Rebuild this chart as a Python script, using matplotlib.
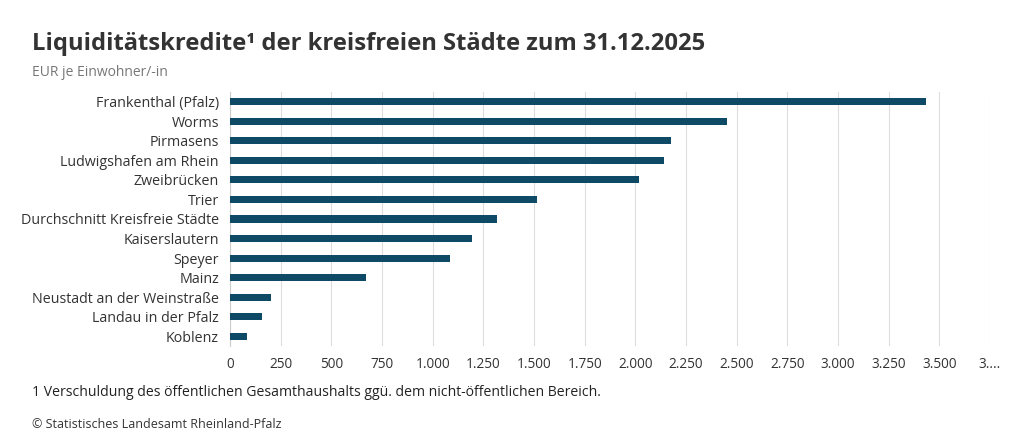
import matplotlib.pyplot as plt
import numpy as np

staedte = ['Frankenthal (Pfalz)', 'Worms', 'Pirmasens', 'Ludwigshafen am Rhein', 'Zweibrücken',
           'Trier', 'Durchschnitt Kreisfreie Städte', 'Kaiserslautern', 'Speyer', 'Mainz',
           'Neustadt an der Weinstraße', 'Landau in der Pfalz', 'Koblenz']
werte = [3435, 2450, 2178, 2139, 2016, 1513, 1316, 1193, 1084, 670, 202, 158, 84]
ticks = np.arange(0, 3751, 250)
tick_labels = ['{:,}'.format(t).replace(',', '.') for t in ticks]
tick_labels[-1] = '3....'

plt.rcParams['font.family'] = 'Open Sans'
fig = plt.figure(figsize=(10.24, 4.37), dpi=100)
ax = fig.add_axes([230/1024, 1-346/437, 760/1024, 254/437])

y = np.arange(len(staedte))
ax.barh(y, werte, height=0.36, color='#0e4a66', zorder=3)
ax.set_ylim(len(staedte)-0.5, -0.5)
ax.set_xlim(0, 3750)
ax.set_yticks(y, staedte, fontsize=10.3, color='#333333')
ax.set_xticks(ticks, tick_labels, fontsize=9.8, color='#333333')
ax.grid(axis='x', color='#dddddd', linewidth=0.8, zorder=0)
for s in ax.spines.values():
    s.set_visible(False)
ax.spines['left'].set_visible(True)
ax.spines['left'].set_color('#cccccc')
ax.tick_params(length=0, pad=8)

fig.text(32/1024, 1-44/437, 'Liquiditätskredite¹ der kreisfreien Städte zum 31.12.2025',
         fontsize=17.1, fontweight='bold', color='#333333', va='center')
fig.text(32/1024, 1-72/437, 'EUR je Einwohner/-in', fontsize=10, color='#777777', va='center')
fig.text(32/1024, 1-393/437, '1 Verschuldung des öffentlichen Gesamthaushalts ggü. dem nicht-öffentlichen Bereich.',
         fontsize=10.1, color='#222222', va='center')
fig.text(32/1024, 1-424/437, '© Statistisches Landesamt Rheinland-Pfalz', fontsize=9, color='#333333', va='center')

fig.savefig('out.png', dpi=100)
